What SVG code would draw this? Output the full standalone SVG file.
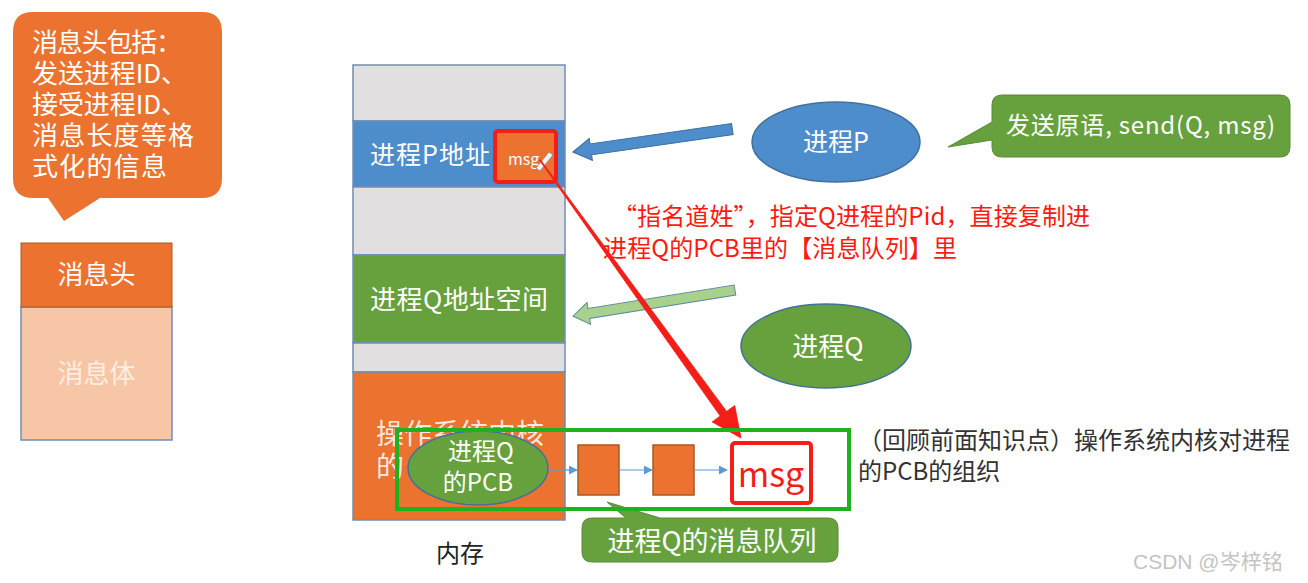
<svg xmlns="http://www.w3.org/2000/svg" width="1308" height="583" viewBox="0 0 1308 583">
<style>
text{font-family:"Noto Sans CJK SC","Noto Sans",sans-serif}
.w{fill:#ffffff}
.mem{stroke:#6f8fb5;stroke-width:1.5}
.gray{fill:#e1dfe0}
.org{fill:#eb722f}
.grn{fill:#67a13d}
.blu{fill:#4e8dcb}
.qbox{fill:#eb722f;stroke:#a85a25;stroke-width:1.5}
.flow{stroke:#5b9bd5;stroke-width:1.2;fill:none;marker-end:url(#ah)}
</style>
<defs>
<marker id="ah" viewBox="0 0 10 10" refX="9" refY="5" markerWidth="9" markerHeight="9" markerUnits="userSpaceOnUse" orient="auto">
<path d="M0,0 L10,5 L0,10 z" fill="#5b9bd5"/>
</marker>
</defs>
<rect width="1308" height="583" fill="#ffffff"/>

<g id="header-callout">
<path d="M33,12 H202 Q222,12 222,32 V178 Q222,198 202,198 H100 L64,221 L48,198 H33 Q13,198 13,178 V32 Q13,12 33,12 Z" fill="#eb722f"/>
<g class="w" font-size="26">
<text x="32" y="52" textLength="150">消息头包括：</text>
<text x="32" y="83" textLength="155">发送进程ID、</text>
<text x="32" y="114" textLength="155">接受进程ID、</text>
<text x="32" y="145" textLength="162">消息长度等格</text>
<text x="32" y="176" textLength="135">式化的信息</text>
</g>
</g>

<g id="message-struct">
<rect x="21" y="307" width="151" height="133" fill="#f7c6a6" stroke="#6f8fb5" stroke-width="1.5"/>
<rect x="21" y="243" width="151" height="64" fill="#eb722f" stroke="#a85a25" stroke-width="1"/>
<text x="96.5" y="284" font-size="26" text-anchor="middle" class="w">消息头</text>
<text x="96.5" y="383" font-size="26" text-anchor="middle" fill="#fbeee4">消息体</text>
</g>

<g id="memory">
<rect x="353" y="65" width="212" height="56" class="gray mem"/>
<rect x="353" y="121" width="212" height="66" class="blu mem"/>
<rect x="353" y="187" width="212" height="68" class="gray mem"/>
<rect x="353" y="255" width="212" height="88" class="grn mem"/>
<rect x="353" y="343" width="212" height="29" class="gray mem"/>
<rect x="353" y="372" width="212" height="148" class="org mem"/>
<text x="370" y="164" font-size="25" class="w" textLength="120">进程P地址</text>
<text x="370" y="309" font-size="26" class="w" textLength="178">进程Q地址空间</text>
<text x="376" y="444" font-size="28" class="w" fill-opacity="0.85">操作系统内核</text>
<text x="376" y="477" font-size="28" class="w" fill-opacity="0.85">的</text>
<text x="460" y="562" font-size="24" text-anchor="middle" fill="#222222">内存</text>
</g>

<g id="msg-p">
<rect x="495" y="131" width="61" height="51" rx="3" fill="#eb722f" stroke="#f31e17" stroke-width="4"/>
<text x="508" y="165" font-size="16" class="w">msg</text>
<path d="M536,168 L549,152 L553,155 L540,171 Z" fill="#f2f2f2" stroke="#888" stroke-width="0.8"/>
</g>

<g id="process-p">
<ellipse cx="836" cy="142" rx="84" ry="40" fill="#4e8dcb" stroke="#41719c" stroke-width="1.5"/>
<text x="836" y="151" font-size="25" text-anchor="middle" class="w">进程P</text>
</g>

<g id="send-callout">
<path d="M1002,95 H1280 Q1290,95 1290,105 V147 Q1290,157 1280,157 H1002 Q992,157 992,147 V140 L948,147 L992,122 V105 Q992,95 1002,95 Z" fill="#67a13d" stroke="#5a8a3a" stroke-width="1"/>
<text x="1006" y="134" font-size="24" class="w" textLength="269">发送原语, send(Q, msg)</text>
</g>

<g id="process-q">
<ellipse cx="826" cy="346" rx="85" ry="42" fill="#67a13d" stroke="#41719c" stroke-width="1.5"/>
<text x="828" y="356" font-size="26" text-anchor="middle" class="w">进程Q</text>
</g>

<g id="annotation">
<g font-size="24" fill="#ff1a0f">
<text x="613" y="225" textLength="477">“指名道姓”，指定Q进程的Pid，直接复制进</text>
<text x="603" y="257" textLength="354">进程Q的PCB里的【消息队列】里</text>
</g>
</g>

<g id="queue">
<rect x="578" y="445" width="41" height="50" class="qbox"/>
<rect x="653" y="445" width="41" height="50" class="qbox"/>
<rect x="732" y="443" width="79" height="60" rx="3" fill="#ffffff" stroke="#f31e17" stroke-width="4"/>
<text x="771" y="487" font-size="34" text-anchor="middle" fill="#f31e17">msg</text>
</g>

<g id="pcb">
<ellipse cx="478" cy="468" rx="70" ry="37" fill="#67a13d" stroke="#41719c" stroke-width="1.5"/>
<text x="481" y="460" font-size="24" text-anchor="middle" class="w">进程Q</text>
<text x="478" y="491" font-size="24" text-anchor="middle" class="w">的PCB</text>
</g>

<g id="queue-callout">
<path d="M592,518 H626 L607,502 L660,518 H828 Q838,518 838,528 V552 Q838,562 828,562 H592 Q582,562 582,552 V528 Q582,518 592,518 Z" fill="#67a13d" stroke="#5a8a3a" stroke-width="1"/>
<text x="712" y="551" font-size="27" class="w" text-anchor="middle">进程Q的消息队列</text>
</g>

<g id="kernel-note">
<g font-size="24" fill="#333333">
<text x="858" y="449" textLength="432">（回顾前面知识点）操作系统内核对进程</text>
<text x="858" y="480">的PCB的组织</text>
</g>
</g>

<g id="connectors">
<polygon transform="translate(573,152) rotate(-8.2)" points="0,0 18,-11 18,-5.5 161,-5.5 161,5.5 18,5.5 18,11" fill="#4e8dcb" stroke="#3f6f9c" stroke-width="1"/>
<polygon transform="translate(573,316) rotate(-9.1)" points="0,0 16,-11 16,-5 164,-5 164,5 16,5 16,11" fill="#a9d18e" stroke="#5e8aa0" stroke-width="1"/>
<polygon points="539.6,160.3 720.2,416 712.1,421.9 741,438 734.7,405.5 726.6,411.4 540.4,159.7" fill="#f31e17" stroke="#f31e17" stroke-width="0.8"/>
<line x1="548" y1="470" x2="577" y2="470" class="flow"/>
<line x1="619" y1="470" x2="652" y2="470" class="flow"/>
<line x1="694" y1="470" x2="727" y2="470" class="flow"/>
<rect x="397" y="430" width="452" height="79" fill="none" stroke="#1fb21f" stroke-width="4"/>
</g>

<g id="watermark">
<text x="1133" y="569" font-size="21" fill="#c4c4c4" style="font-family:'Liberation Sans','Noto Sans CJK SC',sans-serif">CSDN @岑梓铭</text>
</g>
</svg>
